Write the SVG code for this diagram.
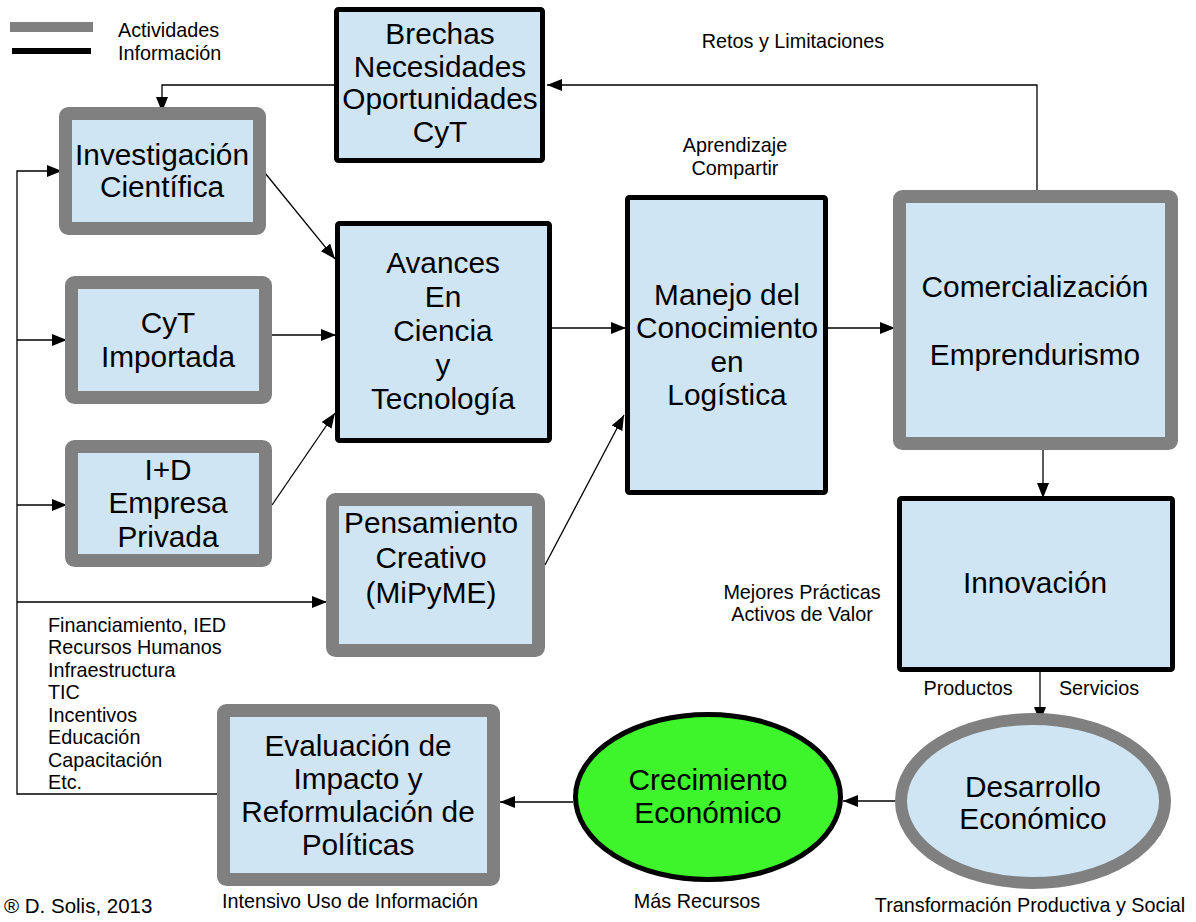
<svg xmlns="http://www.w3.org/2000/svg" width="1196" height="922" viewBox="0 0 1196 922">
<style>
text{font-family:"Liberation Sans",Arial,sans-serif;fill:#000}
.big{font-size:29.8px;text-anchor:middle}
.sm{font-size:19.8px}
.smc{font-size:19.8px;text-anchor:middle}
.act{fill:#cfe5f3;stroke:#808080;stroke-width:13;stroke-linejoin:round}
.inf{fill:#cfe5f3;stroke:#000;stroke-width:5;stroke-linejoin:round}
.con{fill:none;stroke:#000;stroke-width:1.3}
.arr{marker-end:url(#ah)}
</style>
<defs>
<marker id="ah" markerUnits="userSpaceOnUse" markerWidth="16" markerHeight="12" refX="15" refY="6" orient="auto">
<path d="M0,0 L15,6 L0,12 Z" fill="#000"/>
</marker>
</defs>
<rect width="1196" height="922" fill="#fff"/>
<g id="legend">
<rect x="10" y="22" width="83" height="10" fill="#808080"/>
<rect x="12" y="48" width="79" height="6" fill="#000"/>
<text class="sm" x="118" y="37">Actividades</text>
<text class="sm" x="118" y="60">Información</text>
</g>
<g id="connectors">
<path class="con arr" d="M336,85 H162 V112"/>
<path class="con arr" d="M1037,192 V85 H547"/>
<path class="con arr" d="M265,173 L335,259"/>
<path class="con arr" d="M272,335 H336"/>
<path class="con arr" d="M272,505 L335,413"/>
<path class="con arr" d="M552,328 H626"/>
<path class="con arr" d="M545,565 L624,415"/>
<path class="con arr" d="M828,328 H895"/>
<path class="con arr" d="M1043,450 V498"/>
<path class="con arr" d="M1040,672 V722"/>
<path class="con arr" d="M895,801 H843"/>
<path class="con arr" d="M573,802 H500"/>
<path class="con arr" d="M217,794 H17 V171 H62"/>
<path class="con arr" d="M17,340 H67"/>
<path class="con arr" d="M17,505 H67"/>
<path class="con arr" d="M17,602 H327"/>
</g>
<g id="brechas">
<rect class="inf" x="336.5" y="9.5" width="206" height="151" rx="2"/>
<text class="big" x="440" y="44">Brechas</text>
<text class="big" x="440" y="77">Necesidades</text>
<text class="big" x="440" y="109">Oportunidades</text>
<text class="big" x="440" y="142">CyT</text>
</g>
<g id="investigacion">
<rect class="act" x="65.5" y="113.5" width="194" height="115" rx="3"/>
<text class="big" x="162" y="165">Investigación</text>
<text class="big" x="162" y="197">Científica</text>
</g>
<g id="cyt">
<rect class="act" x="71.5" y="282.5" width="194" height="115" rx="3"/>
<text class="big" x="168" y="333">CyT</text>
<text class="big" x="168" y="367">Importada</text>
</g>
<g id="imasd">
<rect class="act" x="71.5" y="446.5" width="194" height="114" rx="3"/>
<text class="big" x="168" y="480">I+D</text>
<text class="big" x="168" y="513">Empresa</text>
<text class="big" x="168" y="547">Privada</text>
</g>
<g id="avances">
<rect class="inf" x="337.5" y="223.5" width="212" height="217" rx="2"/>
<text class="big" x="443" y="273">Avances</text>
<text class="big" x="443" y="307">En</text>
<text class="big" x="443" y="341">Ciencia</text>
<text class="big" x="443" y="375">y</text>
<text class="big" x="443" y="409">Tecnología</text>
</g>
<g id="pensamiento">
<rect class="act" x="332.5" y="499.5" width="206" height="151" rx="3"/>
<text class="big" x="431" y="533">Pensamiento</text>
<text class="big" x="431" y="568">Creativo</text>
<text class="big" x="431" y="603">(MiPyME)</text>
</g>
<g id="manejo">
<rect class="inf" x="627.5" y="197.5" width="198" height="295" rx="2"/>
<text class="big" x="727" y="305">Manejo del</text>
<text class="big" x="727" y="338">Conocimiento</text>
<text class="big" x="727" y="372">en</text>
<text class="big" x="727" y="405">Logística</text>
</g>
<g id="comercializacion">
<rect class="act" x="899.5" y="196.5" width="272" height="247" rx="3"/>
<text class="big" x="1035" y="297">Comercialización</text>
<text class="big" x="1035" y="365">Emprendurismo</text>
</g>
<g id="innovacion">
<rect class="inf" x="899.5" y="498.5" width="273" height="171" rx="2"/>
<text class="big" x="1035" y="593">Innovación</text>
</g>
<g id="desarrollo">
<ellipse cx="1033" cy="801" rx="132" ry="82" fill="#cfe5f3" stroke="#808080" stroke-width="12"/>
<text class="big" x="1033" y="797">Desarrollo</text>
<text class="big" x="1033" y="829">Económico</text>
</g>
<g id="crecimiento">
<ellipse cx="708" cy="797" rx="132.5" ry="82.5" fill="#3ef42a" stroke="#000" stroke-width="5"/>
<text class="big" x="708" y="790">Crecimiento</text>
<text class="big" x="708" y="823">Económico</text>
</g>
<g id="evaluacion">
<rect class="act" x="223.5" y="710.5" width="270" height="169" rx="3"/>
<text class="big" x="358" y="756">Evaluación de</text>
<text class="big" x="358" y="789">Impacto y</text>
<text class="big" x="358" y="822">Reformulación de</text>
<text class="big" x="358" y="855">Políticas</text>
</g>
<g id="labels">
<text class="smc" x="793" y="48">Retos y Limitaciones</text>
<text class="smc" x="735" y="152">Aprendizaje</text>
<text class="smc" x="735" y="175">Compartir</text>
<text class="smc" x="802" y="599">Mejores Prácticas</text>
<text class="smc" x="802" y="621">Activos de Valor</text>
<text class="smc" x="968" y="695">Productos</text>
<text class="smc" x="1099" y="695">Servicios</text>
<text class="smc" x="1030" y="912">Transformación Productiva y Social</text>
<text class="smc" x="697" y="908">Más Recursos</text>
<text class="smc" x="350" y="908">Intensivo Uso de Información</text>
<text class="sm" x="4" y="913" style="font-size:20.5px">® D. Solis, 2013</text>
<text class="sm" x="48" y="632">Financiamiento, IED</text>
<text class="sm" x="48" y="654">Recursos Humanos</text>
<text class="sm" x="48" y="677">Infraestructura</text>
<text class="sm" x="48" y="699">TIC</text>
<text class="sm" x="48" y="722">Incentivos</text>
<text class="sm" x="48" y="744">Educación</text>
<text class="sm" x="48" y="767">Capacitación</text>
<text class="sm" x="48" y="789">Etc.</text>
</g>
</svg>
